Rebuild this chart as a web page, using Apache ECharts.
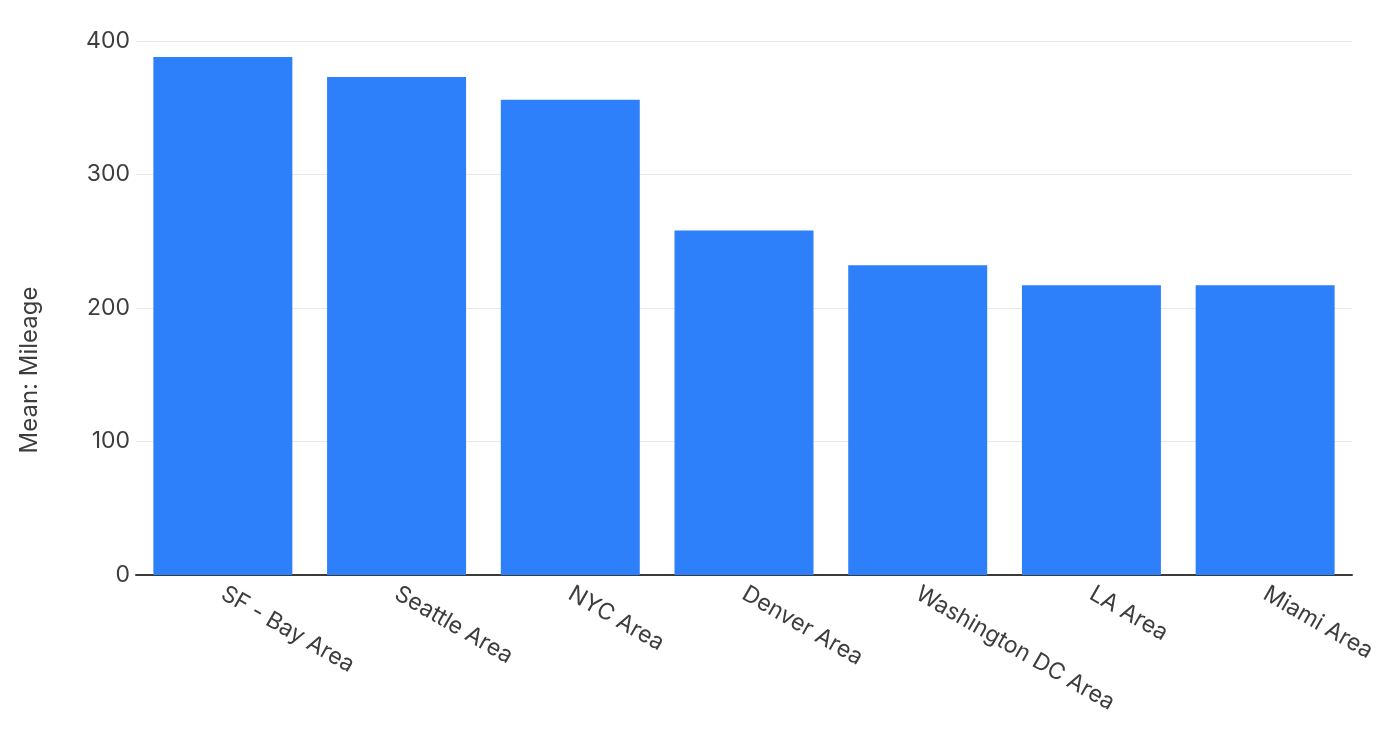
<!DOCTYPE html>
<html>
<head>
<meta charset="utf-8">
<script src="https://cdn.jsdelivr.net/npm/echarts@6/dist/echarts.min.js"></script>
<style>html,body{margin:0;padding:0;background:#fff}#c{width:1388px;height:742px}</style>
</head>
<body>
<div id="c"></div>
<script>
const categories = ["SF - Bay Area", "Seattle Area", "NYC Area", "Denver Area", "Washington DC Area", "LA Area", "Miami Area"];
const meanMileage = [388, 373, 356, 258, 232, 217, 217];
const yTicks = [0, 100, 200, 300, 400];

const chart = echarts.init(document.getElementById('c'), null, {renderer: 'canvas'});
const font = 'Inter, "Noto Sans", sans-serif';
chart.setOption({
  animation: false,
  grid: {left: 136, right: 36, top: 41, bottom: 167, containLabel: false},
  xAxis: {
    type: 'category',
    data: categories,
    axisLine: {show: true, lineStyle: {color: '#3a3a3a', width: 2}},
    axisTick: {show: false},
    axisLabel: {rotate: -30, color: '#3d3d3d', fontSize: 23, fontFamily: font, margin: 17, interval: 0}
  },
  yAxis: {
    type: 'value',
    min: yTicks[0], max: yTicks[yTicks.length - 1], interval: 100,
    name: 'Mean: Mileage',
    nameLocation: 'middle',
    nameGap: 94,
    nameTextStyle: {color: '#3d3d3d', fontSize: 24, fontFamily: font, padding: [0, 124, 0, 0]},
    axisLine: {show: false},
    axisTick: {show: false},
    axisLabel: {color: '#3d3d3d', fontSize: 23, fontFamily: font, margin: 6},
    splitLine: {lineStyle: {color: '#e8e8e8', width: 1}}
  },
  series: [{
    type: 'bar',
    data: meanMileage,
    barCategoryGap: '20%',
    itemStyle: {color: '#2e7ffa'}
  }]
});
</script>
</body>
</html>
